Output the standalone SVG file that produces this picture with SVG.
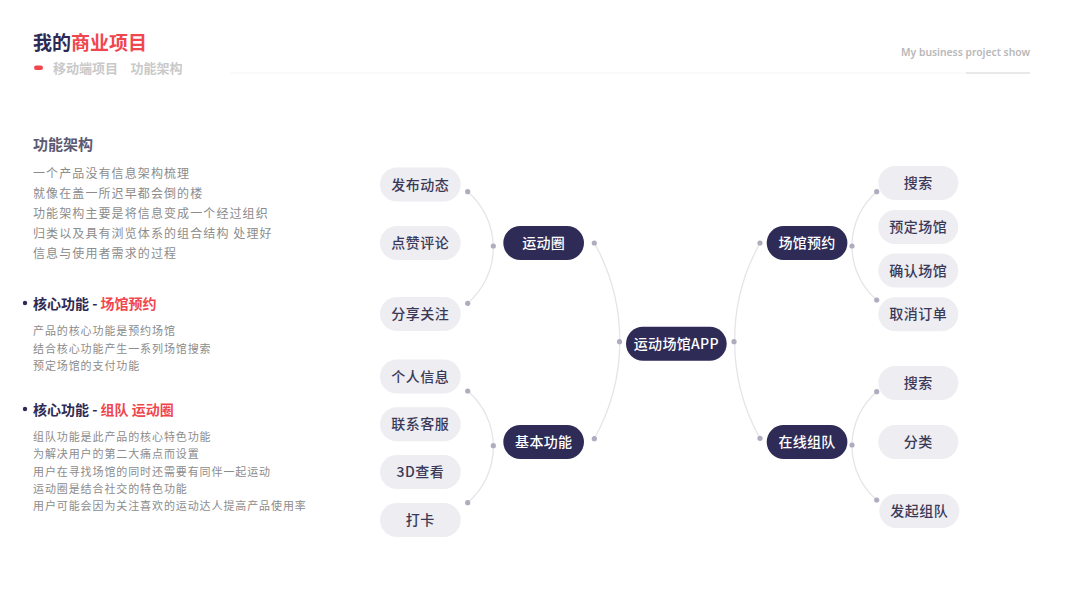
<svg xmlns="http://www.w3.org/2000/svg" width="1067" height="600" viewBox="0 0 1067 600">
<defs>
<style>
text{font-family:"Noto Sans CJK SC","Noto Sans",sans-serif}
.leaf rect{fill:#ededf2}
.leaf text{fill:#3b3958;font-size:14px;font-weight:500;text-anchor:middle;letter-spacing:0.5px}
.hub rect{fill:#2e2b57}
.hub text{fill:#ffffff;font-size:14px;font-weight:500;text-anchor:middle;letter-spacing:0.3px}
.arc{fill:none;stroke:#e5e4ea;stroke-width:1.3}
.dot{fill:#aeacbe}
.body{fill:#8c8c8c;font-size:12px;letter-spacing:1.1px}
.sub{fill:#8c8c8c;font-size:11px;letter-spacing:0.9px}
.core{font-size:14px;font-weight:700}
</style>
</defs>
<rect width="1067" height="600" fill="#ffffff"/>
<g id="header">
<text x="33" y="50" font-size="19" font-weight="700"><tspan fill="#2d2a55">我的</tspan><tspan fill="#f0474f">商业项目</tspan></text>
<rect x="34" y="65.5" width="9" height="4.5" rx="2.25" fill="#f0474f"/>
<text y="73" font-size="13" font-weight="700" fill="#c9c9c9"><tspan x="53">移动端项目</tspan><tspan x="130.5">功能架构</tspan></text>
<text x="1030" y="56" font-size="11" font-weight="600" fill="#b8b8b8" text-anchor="end" textLength="129" lengthAdjust="spacingAndGlyphs" style="font-family:'Noto Sans',sans-serif">My business project show</text>
<line x1="230" y1="73" x2="966" y2="73" stroke="#f6f6f6" stroke-width="1"/>
<line x1="966" y1="73" x2="1030" y2="73" stroke="#e9e9ec" stroke-width="2"/>
</g>
<g id="intro">
<text x="33" y="150" font-size="15" font-weight="700" fill="#5c5a72">功能架构</text>
<text class="body" x="33" y="178">一个产品没有信息架构梳理</text>
<text class="body" x="33" y="198">就像在盖一所迟早都会倒的楼</text>
<text class="body" x="33" y="218">功能架构主要是将信息变成一个经过组织</text>
<text class="body" x="33" y="238">归类以及具有浏览体系的组合结构 处理好</text>
<text class="body" x="33" y="258">信息与使用者需求的过程</text>
</g>
<g id="core1">
<circle cx="25" cy="303" r="2.2" fill="#2d2a55"/>
<text class="core" x="33" y="309"><tspan fill="#2d2a55">核心功能 - </tspan><tspan fill="#f0474f">场馆预约</tspan></text>
<text class="sub" x="33" y="335">产品的核心功能是预约场馆</text>
<text class="sub" x="33" y="352.5">结合核心功能产生一系列场馆搜索</text>
<text class="sub" x="33" y="370">预定场馆的支付功能</text>
</g>
<g id="core2">
<circle cx="25" cy="409" r="2.2" fill="#2d2a55"/>
<text class="core" x="33" y="415"><tspan fill="#2d2a55">核心功能 - </tspan><tspan fill="#f0474f">组队 运动圈</tspan></text>
<text class="sub" x="33" y="441">组队功能是此产品的核心特色功能</text>
<text class="sub" x="33" y="458.3">为解决用户的第二大痛点而设置</text>
<text class="sub" x="33" y="475.6">用户在寻找场馆的同时还需要有同伴一起运动</text>
<text class="sub" x="33" y="492.9">运动圈是结合社交的特色功能</text>
<text class="sub" x="33" y="510.2">用户可能会因为关注喜欢的运动达人提高产品使用率</text>
</g>
<g id="connectors">
<path class="arc" d="M467.7,191.7 A73.6,73.6 0 0 1 467.7,303.3"/>
<path class="arc" d="M467.7,391 A73.6,73.6 0 0 1 467.7,502.7"/>
<path class="arc" d="M594.3,243 A200.5,200.5 0 0 1 594.3,438.7"/>
<path class="arc" d="M760,243 A200.5,200.5 0 0 0 760,438.3"/>
<path class="arc" d="M876.7,191.7 A71.7,71.7 0 0 0 876.7,300"/>
<path class="arc" d="M876.7,391.7 A71.7,71.7 0 0 0 876.7,500"/>
<circle class="dot" cx="467.7" cy="191.7" r="2.6"/>
<circle class="dot" cx="493.3" cy="246" r="2.6"/>
<circle class="dot" cx="467.7" cy="303.3" r="2.6"/>
<circle class="dot" cx="467.7" cy="391" r="2.6"/>
<circle class="dot" cx="493.3" cy="445.7" r="2.6"/>
<circle class="dot" cx="467.7" cy="502.7" r="2.6"/>
<circle class="dot" cx="594.3" cy="243" r="2.6"/>
<circle class="dot" cx="594.3" cy="438.7" r="2.6"/>
<circle class="dot" cx="619.5" cy="341.7" r="2.6"/>
<circle class="dot" cx="734" cy="341.7" r="2.6"/>
<circle class="dot" cx="760" cy="243" r="2.6"/>
<circle class="dot" cx="760" cy="438.3" r="2.6"/>
<circle class="dot" cx="852" cy="246" r="2.6"/>
<circle class="dot" cx="876.7" cy="191.7" r="2.6"/>
<circle class="dot" cx="876.7" cy="300" r="2.6"/>
<circle class="dot" cx="852" cy="445" r="2.6"/>
<circle class="dot" cx="876.7" cy="391.7" r="2.6"/>
<circle class="dot" cx="876.7" cy="500" r="2.6"/>
</g>
<g id="n-app" class="hub"><rect x="626" y="326.7" width="100.7" height="34" rx="17"/><text x="676.3" y="348.7">运动场馆APP</text></g>
<g id="n-yundongquan" class="hub"><rect x="503.3" y="226" width="80.7" height="34" rx="17"/><text x="543.7" y="248">运动圈</text></g>
<g id="n-jibengongneng" class="hub"><rect x="503.3" y="425" width="80.7" height="34" rx="17"/><text x="543.7" y="447">基本功能</text></g>
<g id="n-changguanyuyue" class="hub"><rect x="766.7" y="226" width="80.7" height="34" rx="17"/><text x="807" y="248">场馆预约</text></g>
<g id="n-zaixianzudui" class="hub"><rect x="766.7" y="425" width="80.7" height="34" rx="17"/><text x="807" y="447">在线组队</text></g>
<g id="n-fabudongtai" class="leaf"><rect x="380" y="167.5" width="80.7" height="34" rx="17"/><text x="420.3" y="189.5">发布动态</text></g>
<g id="n-dianzanpinglun" class="leaf"><rect x="380" y="226" width="80.7" height="34" rx="17"/><text x="420.3" y="248">点赞评论</text></g>
<g id="n-fenxiangguanzhu" class="leaf"><rect x="380" y="297" width="80.7" height="34" rx="17"/><text x="420.3" y="319">分享关注</text></g>
<g id="n-gerenxinxi" class="leaf"><rect x="380" y="359.5" width="80.7" height="34" rx="17"/><text x="420.3" y="381.5">个人信息</text></g>
<g id="n-lianxikefu" class="leaf"><rect x="380" y="407.3" width="80.7" height="34" rx="17"/><text x="420.3" y="429.3">联系客服</text></g>
<g id="n-3d" class="leaf"><rect x="380" y="455" width="80.7" height="34" rx="17"/><text x="420.3" y="477">3D查看</text></g>
<g id="n-daka" class="leaf"><rect x="380" y="503" width="80.7" height="34" rx="17"/><text x="420.3" y="525">打卡</text></g>
<g id="n-sousuo1" class="leaf"><rect x="878.3" y="166" width="80" height="34" rx="17"/><text x="918.3" y="188">搜索</text></g>
<g id="n-yudingchangguan" class="leaf"><rect x="878.3" y="210" width="80" height="34" rx="17"/><text x="918.3" y="232">预定场馆</text></g>
<g id="n-querenchangguan" class="leaf"><rect x="878.3" y="253.5" width="80" height="34" rx="17"/><text x="918.3" y="275.5">确认场馆</text></g>
<g id="n-quxiaodingdan" class="leaf"><rect x="878.3" y="297.3" width="80" height="34" rx="17"/><text x="918.3" y="319.3">取消订单</text></g>
<g id="n-sousuo2" class="leaf"><rect x="878.3" y="366" width="80" height="34" rx="17"/><text x="918.3" y="388">搜索</text></g>
<g id="n-fenlei" class="leaf"><rect x="878.3" y="425" width="80" height="34" rx="17"/><text x="918.3" y="447">分类</text></g>
<g id="n-faqizudui" class="leaf"><rect x="879.3" y="494" width="80" height="34" rx="17"/><text x="919.3" y="516">发起组队</text></g>
</svg>
